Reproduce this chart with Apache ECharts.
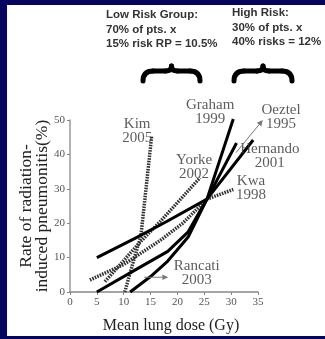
<!DOCTYPE html>
<html><head><meta charset="utf-8">
<script src="https://cdn.jsdelivr.net/npm/echarts@6/dist/echarts.min.js"></script>
<style>html,body{margin:0;padding:0;background:#05055f;}#c{width:325px;height:339px;}</style>
</head><body><div id="c"></div>
<script>
// ---- data ----
const xTicks = [0, 5, 10, 15, 20, 25, 30, 35];
const yTicks = [0, 10, 20, 30, 40, 50];
const hernando = [[5,10],[12,15.5],[18,20.5],[25.5,27],[34.1,44.2]];
const oeztel   = [[5,0],[12,6.3],[18.2,11.8],[22,17.5],[25.5,27],[31,43.3]];
const graham   = [[11.2,0],[15,4.5],[18.2,9],[22,16],[25.5,27],[30.4,50.3]];
const kwa      = [[3.7,3.5],[10,8],[16.8,15],[21,20],[25.5,27],[30.4,29.8]];
const yorke    = [[6.5,3],[13,14.4],[16.8,20.5],[24.2,33.2]];
const kim      = [[10.2,0],[12,10],[13.2,16.3],[15.2,45.2]];
const studyLabels = [
  [12.5,46.8,'Kim\n2005'],
  [26.1,52.2,'Graham\n1999'],
  [39.3,50.9,'Oeztel\n1995'],
  [23.1,36.4,'Yorke\n2002'],
  [37.2,39.6,'Hernando\n2001'],
  [33.7,30.3,'Kwa\n1998'],
  [23.6,5.5,'Rancati\n2003']
];
const oeztelArrow = [[30.9,40.5],[35.9,50]];
const rancatiArrow = [[13.8,4.3],[18.3,4.3]];
const lowRiskText = ['Low Risk Group:','70% of pts. x','15% risk RP = 10.5%'];
const highRiskText = ['High Risk:','30% of pts. x','40% risks = 12%'];

const chart = echarts.init(document.getElementById('c'));
const serif = '"Liberation Serif","DejaVu Serif",serif';
function solid(name, d){return {name, type:'line', data:d, showSymbol:false, symbol:'none', clip:false,
  lineStyle:{color:'#000', width:3, type:'solid'}, z:3};}
function dotted(name, d){return {name, type:'line', data:d, showSymbol:false, symbol:'none', clip:false,
  lineStyle:{color:'#333', width:3.5, type:[1.6,1.1]}, z:2};}
function brace(x0,x1,yt,yb){
  const xc=(x0+x1)/2, ym=yt+5;
  const st={stroke:'#000', lineWidth:5, fill:null, lineCap:'round'};
  const bc=(a,b,c,d,e,f)=>({type:'bezierCurve', shape:{x1:a,y1:b,cpx1:c,cpy1:d,x2:e,y2:f}, style:st});
  const ln=(a,b,c,d)=>({type:'line', shape:{x1:a,y1:b,x2:c,y2:d}, style:st});
  return [
    bc(x0,yb,x0,ym,x0+10,ym), ln(x0+10,ym,xc-6,ym), bc(xc-6,ym,xc,ym,xc,yt),
    bc(xc,yt,xc,ym,xc+6,ym), ln(xc+6,ym,x1-10,ym), bc(x1-10,ym,x1,ym,x1,yb)
  ];
}
const baseGraphic = [
  {type:'rect', shape:{x:7,y:5,width:330,height:331}, style:{fill:'#ffffff'}, z:-10},
  {type:'text', x:106, y:8, style:{text:lowRiskText.join('\n'), font:'bold 11.5px "Liberation Sans",Arial,sans-serif', fill:'#333', lineHeight:14.5}},
  {type:'text', x:232, y:6, style:{text:highRiskText.join('\n'), font:'bold 11.5px "Liberation Sans",Arial,sans-serif', fill:'#333', lineHeight:14.5}}
].concat(brace(143,200,66,81), brace(234,292,66,81));

chart.setOption({
  backgroundColor:'#05055f',
  animation:false,
  grid:{left:70, right:67, top:120, bottom:46},
  xAxis:{type:'value', min:0, max:35, interval:5,
    name:'Mean lung dose (Gy)', nameLocation:'middle', nameGap:26, nameMoveOverlap:false,
    nameTextStyle:{fontFamily:serif, fontSize:16, color:'#222', padding:[0,0,0,14]},
    axisLine:{lineStyle:{color:'#888', width:1.5}},
    axisTick:{show:true, length:3, lineStyle:{color:'#888'}},
    axisLabel:{fontFamily:serif, fontSize:11, color:'#555', margin:5},
    splitLine:{show:false}},
  yAxis:{type:'value', min:0, max:50, interval:10,
    name:'Rate of radiation-\ninduced pneumonitis(%)', nameLocation:'middle', nameGap:20, nameMoveOverlap:false,
    nameTextStyle:{fontFamily:serif, fontSize:17.5, color:'#222', lineHeight:16},
    axisLine:{show:true, lineStyle:{color:'#999', width:1.5}},
    axisTick:{show:true, length:3, lineStyle:{color:'#888'}},
    axisLabel:{fontFamily:serif, fontSize:11, color:'#555', margin:5},
    splitLine:{show:false}},
  graphic: baseGraphic,
  series:[
    dotted('Kim 2005', kim),
    dotted('Yorke 2002', yorke),
    dotted('Kwa 1998', kwa),
    solid('Hernando 2001', hernando),
    solid('Oeztel 1995', oeztel),
    solid('Graham 1999', graham),
    {type:'scatter', name:'labels', clip:false, symbolSize:0, z:5,
      data:studyLabels.map(l=>({value:[l[0],l[1]], text:l[2]})),
      label:{show:true, position:'inside', formatter:p=>p.data.text,
        fontFamily:serif, fontSize:15, color:'#333', lineHeight:14}}
  ]
});
function arrow(a){
  const p0 = chart.convertToPixel({gridIndex:0}, a[0]);
  const p1 = chart.convertToPixel({gridIndex:0}, a[1]);
  const dx=p1[0]-p0[0], dy=p1[1]-p0[1], L=Math.hypot(dx,dy), ux=dx/L, uy=dy/L;
  const h=6, w=2.8, bx=p1[0]-ux*h, by=p1[1]-uy*h;
  return [
    {type:'line', shape:{x1:p0[0],y1:p0[1],x2:bx,y2:by}, style:{stroke:'#777', lineWidth:1}, z:10},
    {type:'polygon', shape:{points:[[p1[0],p1[1]],[bx-uy*w,by+ux*w],[bx+uy*w,by-ux*w]]}, style:{fill:'#777'}, z:10}
  ];
}
chart.setOption({graphic: baseGraphic.concat(arrow(oeztelArrow), arrow(rancatiArrow))});
</script></body></html>
